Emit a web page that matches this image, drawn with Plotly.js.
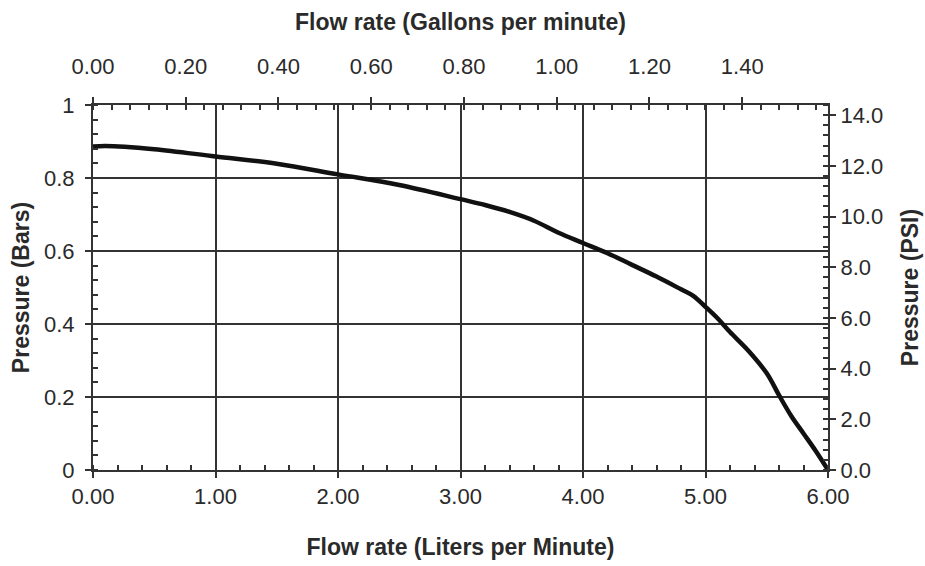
<!DOCTYPE html>
<html>
<head>
<meta charset="utf-8">
<script src="https://cdn.plot.ly/plotly-3.0.1.min.js"></script>
<style>html,body{margin:0;padding:0;background:#fff;}#chart{width:925px;height:566px;}</style>
</head>
<body>
<div id="chart"></div>
<script>
// Flow rate (Liters per Minute) and pressure (Bars)
const flowLpm = [0, 0.1, 0.5, 1.0, 1.5, 2.0, 2.5, 3.0, 3.2, 3.4, 3.6, 3.8, 4.0, 4.2, 4.4, 4.6, 4.8, 4.9, 5.0, 5.1, 5.2, 5.35, 5.5, 5.6, 5.7, 5.8, 5.9, 6.0];
const pressureBar = [0.886, 0.888, 0.879, 0.859, 0.839, 0.810, 0.781, 0.742, 0.726, 0.707, 0.683, 0.650, 0.622, 0.594, 0.562, 0.530, 0.495, 0.477, 0.447, 0.415, 0.378, 0.327, 0.265, 0.205, 0.148, 0.100, 0.052, 0.0];

const LITERS_PER_GALLON = 3.785412;
const PSI_PER_BAR = 14.4;
const maxLpm = 6;

const fam = '"Liberation Sans", Arial, sans-serif';
const tickFont = {family: fam, size: 22, color: '#2a2a2a'};
const titleFont = {family: fam, size: 23, color: '#2a2a2a', weight: 'bold'};
const lineCol = '#333';

const trace = {
  x: flowLpm, y: pressureBar, type: 'scatter', mode: 'lines',
  line: {color: '#111', width: 4.5, shape: 'spline', smoothing: 1},
  xaxis: 'x', yaxis: 'y', hoverinfo: 'skip'
};

const minorCommon = {ticks: 'inside', ticklen: 5, tickwidth: 2, tickcolor: lineCol, showgrid: false};

const layout = {
  width: 925, height: 566,
  margin: {l: 93, r: 97, t: 105, b: 96},
  paper_bgcolor: '#fff', plot_bgcolor: '#fff',
  showlegend: false,
  xaxis: {
    range: [0, maxLpm], dtick: 1, tick0: 0, tickformat: '.2f',
    showgrid: true, gridcolor: lineCol, gridwidth: 2,
    showline: true, linecolor: lineCol, linewidth: 2,
    ticks: 'outside', ticklen: 6, tickwidth: 2, tickcolor: lineCol,
    minor: Object.assign({dtick: 0.2}, minorCommon),
    tickfont: tickFont, zeroline: false,
    title: {text: 'Flow rate (Liters per Minute)', font: titleFont, standoff: 30}
  },
  xaxis2: {
    overlaying: 'x', side: 'top', anchor: 'y',
    range: [0, maxLpm / LITERS_PER_GALLON], dtick: 0.2, tick0: 0, tickformat: '.2f',
    showgrid: false, showline: true, linecolor: lineCol, linewidth: 2,
    ticks: 'outside', ticklen: 6, tickwidth: 2, tickcolor: lineCol,
    ticklabelstandoff: 14,
    minor: Object.assign({dtick: 0.04}, minorCommon),
    tickfont: tickFont, zeroline: false,
    title: {text: 'Flow rate (Gallons per minute)', font: titleFont, standoff: 17}
  },
  yaxis: {
    range: [0, 1], dtick: 0.2, tick0: 0,
    showgrid: true, gridcolor: lineCol, gridwidth: 2,
    showline: true, linecolor: lineCol, linewidth: 2,
    ticks: 'outside', ticklen: 6, tickwidth: 2, tickcolor: lineCol,
    ticklabelstandoff: 6,
    minor: Object.assign({dtick: 0.04}, minorCommon),
    tickfont: tickFont, zeroline: false,
    title: {text: 'Pressure (Bars)', font: titleFont, standoff: 8}
  },
  yaxis2: {
    overlaying: 'y', side: 'right', anchor: 'x',
    range: [0, PSI_PER_BAR], dtick: 2, tick0: 0, tickformat: '.1f',
    showgrid: false, showline: true, linecolor: lineCol, linewidth: 2,
    ticks: 'outside', ticklen: 6, tickwidth: 2, tickcolor: lineCol,
    minor: Object.assign({dtick: 0.4}, minorCommon),
    tickfont: tickFont, zeroline: false,
    title: {text: 'Pressure (PSI)', font: titleFont, standoff: 20}
  }
};

// invisible traces to activate the secondary axes
const topTrace = {x: [0, maxLpm / LITERS_PER_GALLON], y: [0, 0], xaxis: 'x2', yaxis: 'y', mode: 'none', hoverinfo: 'skip'};
const rightTrace = {x: [0, 0], y: [0, PSI_PER_BAR], xaxis: 'x', yaxis: 'y2', mode: 'none', hoverinfo: 'skip'};

Plotly.newPlot('chart', [topTrace, rightTrace, trace], layout, {staticPlot: true, displayModeBar: false});
</script>
</body>
</html>
